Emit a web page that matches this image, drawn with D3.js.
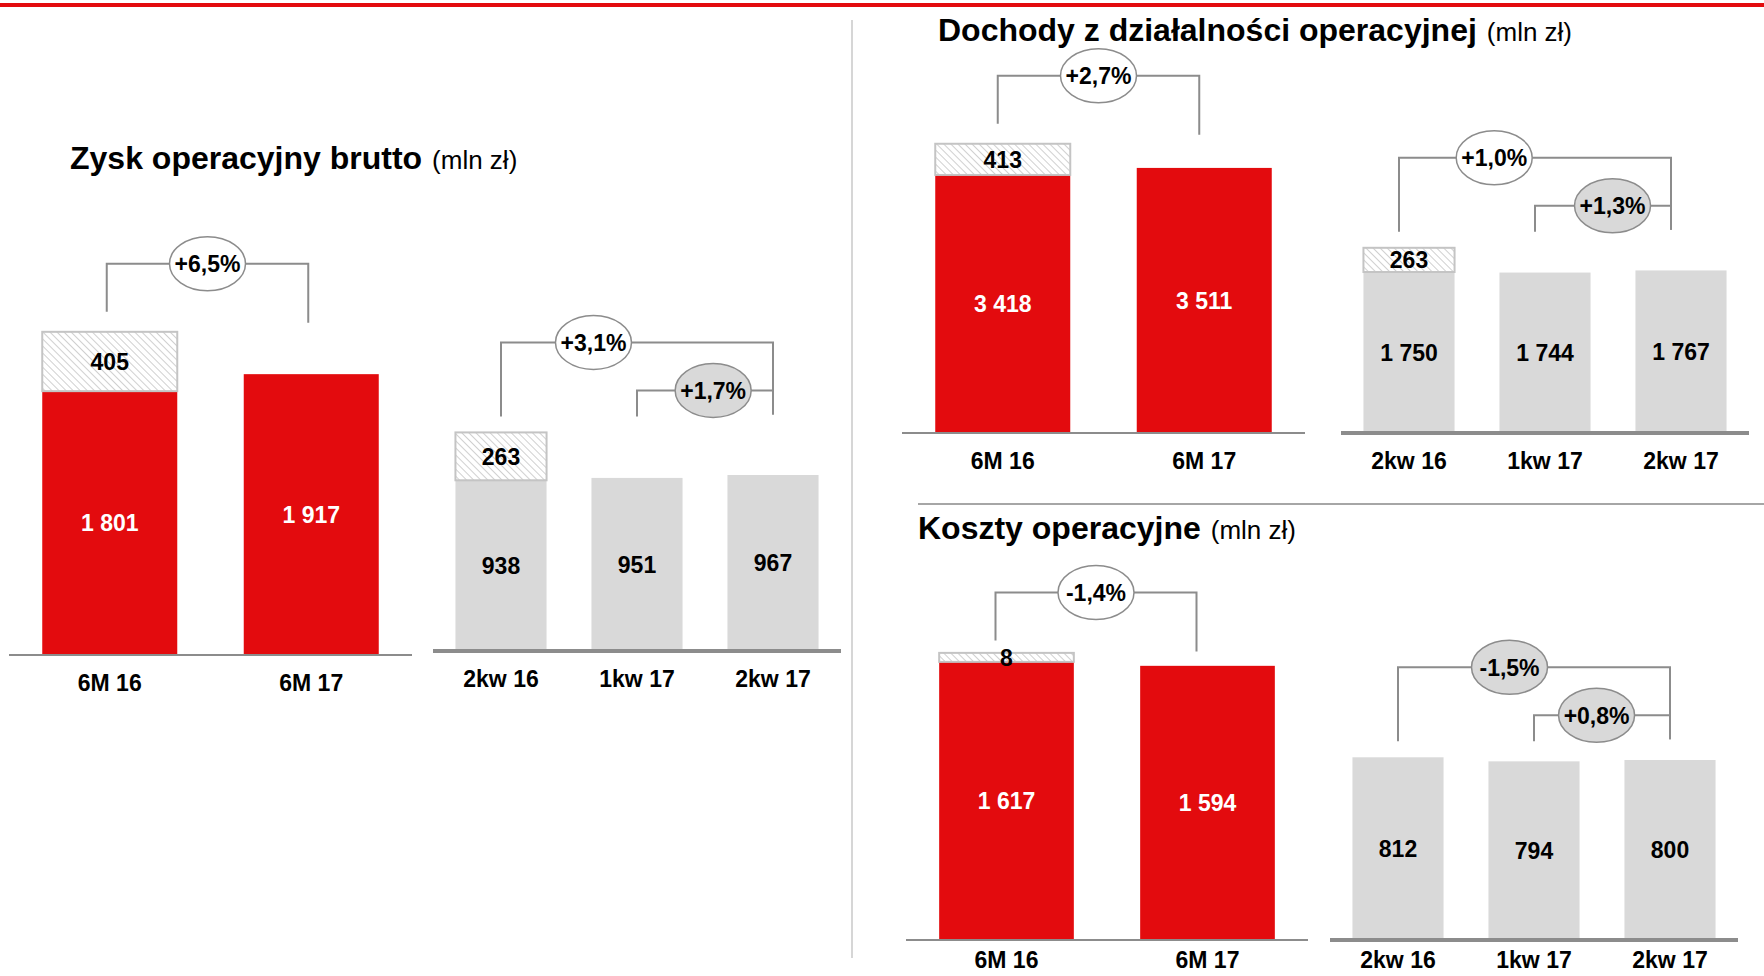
<!DOCTYPE html>
<html>
<head>
<meta charset="utf-8">
<script src="https://cdn.jsdelivr.net/npm/d3@7"></script>
<style>
  body { margin: 0; background: #fff; }
  svg { display: block; font-family: "Liberation Sans", Arial, sans-serif; }
</style>
</head>
<body>
<div id="chart"></div>
<script>
// Data
const halfCats = ["6M 16", "6M 17"];
const quarterCats = ["2kw 16", "1kw 17", "2kw 17"];

const zyskHalf = [1801, 1917];
const zyskHalfExtra = [405, 0];
const zyskQuarter = [938, 951, 967];
const zyskQuarterExtra = [263, 0, 0];
const zyskChanges = ["+6,5%", "+3,1%", "+1,7%"];

const dochodyHalf = [3418, 3511];
const dochodyHalfExtra = [413, 0];
const dochodyQuarter = [1750, 1744, 1767];
const dochodyQuarterExtra = [263, 0, 0];
const dochodyChanges = ["+2,7%", "+1,0%", "+1,3%"];

const kosztyHalf = [1617, 1594];
const kosztyHalfExtra = [8, 0];
const kosztyQuarter = [812, 794, 800];
const kosztyQuarterExtra = [0, 0, 0];
const kosztyChanges = ["-1,4%", "-1,5%", "+0,8%"];

// colours
const RED = "#e30b0e";
const GREY_BAR = "#d9d9d9";
const LINE = "#8c8c8c";

const W = 1764, H = 976;
const fmt = d3.formatLocale({ decimal: ",", thousands: " ", grouping: [3], currency: ["", ""] }).format(",d");

const svg = d3.select("#chart")
  .append("svg")
  .attr("width", W)
  .attr("height", H);

// hatch pattern for the one-off items
const defs = svg.append("defs");
defs.append("pattern")
  .attr("id", "hatch")
  .attr("patternUnits", "userSpaceOnUse")
  .attr("width", 5)
  .attr("height", 5)
  .attr("patternTransform", "rotate(-45)")
  .call(p => {
    p.append("rect").attr("width", 5).attr("height", 5).attr("fill", "#fff");
    p.append("line").attr("x1", 0).attr("y1", 0).attr("x2", 0).attr("y2", 5)
      .attr("stroke", "#c4c4c4").attr("stroke-width", 1.6);
  });

// frame lines
svg.append("rect").attr("x", 0).attr("y", 3).attr("width", W).attr("height", 4).attr("fill", RED);
svg.append("line").attr("x1", 852).attr("x2", 852).attr("y1", 20).attr("y2", 958)
  .attr("stroke", "#c8c8c8").attr("stroke-width", 1.5);
svg.append("line").attr("x1", 918).attr("x2", W).attr("y1", 504).attr("y2", 504)
  .attr("stroke", "#a6a6a6").attr("stroke-width", 2);

// titles
function title(x, y, bold) {
  const t = svg.append("text").attr("x", x).attr("y", y).attr("fill", "#000");
  t.append("tspan").attr("font-size", 32).attr("font-weight", "bold").text(bold);
  t.append("tspan").attr("font-size", 26).attr("dx", 10).text("(mln zł)");
}
title(70, 169, "Zysk operacyjny brutto");
title(938, 41, "Dochody z działalności operacyjnej");
title(918, 539, "Koszty operacyjne");

// one group of bars: cats, base values, hatched extra values
function drawGroup(o) {
  const g = svg.append("g");
  const x = d3.scaleBand().domain(o.cats).range(o.xRange).paddingInner(0.33).paddingOuter(0.165);
  const y = d3.scaleLinear().domain(o.yDomain).range(o.yRange);
  const rows = o.cats.map((c, i) => ({ cat: c, base: o.base[i], extra: o.extra[i] }));
  const extraH = d => Math.max(y(0) - y(d.extra), 9);

  g.selectAll("rect.base").data(rows).enter().append("rect")
    .attr("class", "base")
    .attr("x", d => x(d.cat))
    .attr("width", x.bandwidth())
    .attr("y", d => y(d.base))
    .attr("height", d => y(0) - y(d.base))
    .attr("fill", o.color);

  const withExtra = rows.filter(d => d.extra > 0);
  g.selectAll("rect.extra").data(withExtra).enter().append("rect")
    .attr("class", "extra")
    .attr("x", d => x(d.cat))
    .attr("width", x.bandwidth())
    .attr("y", d => y(d.base) - extraH(d))
    .attr("height", extraH)
    .attr("fill", "url(#hatch)")
    .attr("stroke", "#c4c4c4")
    .attr("stroke-width", 2);

  // axis line
  g.append("line")
    .attr("x1", o.xRange[0]).attr("x2", o.xRange[1])
    .attr("y1", y(0)).attr("y2", y(0))
    .attr("stroke", LINE).attr("stroke-width", o.axisWidth);

  // value labels
  g.selectAll("text.val").data(rows).enter().append("text")
    .attr("x", d => x(d.cat) + x.bandwidth() / 2)
    .attr("y", d => (y(0) + y(d.base)) / 2)
    .attr("dy", "0.36em")
    .attr("text-anchor", "middle")
    .attr("font-size", 23).attr("font-weight", "bold")
    .attr("fill", o.labelColor)
    .text(d => fmt(d.base));

  g.selectAll("text.ext").data(withExtra).enter().append("text")
    .attr("x", d => x(d.cat) + x.bandwidth() / 2)
    .attr("y", d => y(d.base) - extraH(d) / 2)
    .attr("dy", "0.36em")
    .attr("text-anchor", "middle")
    .attr("font-size", 23).attr("font-weight", "bold")
    .attr("fill", "#000")
    .text(d => fmt(d.extra));

  // category labels (kept inside the bottom edge)
  g.selectAll("text.cat").data(o.cats).enter().append("text")
    .attr("x", d => x(d) + x.bandwidth() / 2)
    .attr("y", Math.min(y(0) + 36, H - 8))
    .attr("text-anchor", "middle")
    .attr("font-size", 23).attr("font-weight", "bold")
    .attr("fill", "#000")
    .text(d => d);

  return { x, y, rows, g };
}

function bubble(g, cx, cy, label, fill) {
  g.append("ellipse")
    .attr("cx", cx).attr("cy", cy).attr("rx", 38).attr("ry", 27)
    .attr("fill", fill).attr("stroke", LINE).attr("stroke-width", 1.5);
  g.append("text")
    .attr("x", cx).attr("y", cy).attr("dy", "0.36em")
    .attr("text-anchor", "middle")
    .attr("font-size", 23).attr("font-weight", "bold")
    .attr("fill", "#000")
    .text(label);
}

function bracket(g, xa, ya, xb, yb, level) {
  g.append("path")
    .attr("d", `M${xa},${ya}V${level}H${xb}V${yb}`)
    .attr("fill", "none").attr("stroke", LINE).attr("stroke-width", 2);
}

// half-year pair with one comparison bracket
function halfPanel(o, change, shift) {
  const { x, y, rows, g } = drawGroup(o);
  const c0 = x(rows[0].cat) + x.bandwidth() / 2 + shift;
  const c1 = x(rows[1].cat) + x.bandwidth() / 2 + shift;
  const legL = y(rows[0].base + rows[0].extra) - 20;
  const level = legL - 48;
  bracket(g, c0, legL, c1, legL + 11, level);
  bubble(g, (c0 + c1) / 2, level, change, "#fff");
}

// quarterly trio with y/y and q/q brackets
function quarterPanel(o, changes, shift, outerAt, innerAt, outerFill) {
  const { x, y, rows, g } = drawGroup(o);
  const cx = rows.map(d => x(d.cat) + x.bandwidth() / 2 + shift);
  const leg = y(rows[0].base + rows[0].extra) - 16;
  const outer = leg - 74, inner = leg - 26;
  bracket(g, cx[0], leg, cx[2], leg - 2, outer);
  bracket(g, cx[1], leg, cx[2], leg - 2, inner);
  bubble(g, cx[0] + (cx[2] - cx[0]) * outerAt, outer, changes[0], outerFill);
  bubble(g, cx[1] + (cx[2] - cx[1]) * innerAt, inner, changes[1], GREY_BAR);
}

// Zysk operacyjny brutto
halfPanel({ cats: halfCats, base: zyskHalf, extra: zyskHalfExtra, xRange: [9, 412],
  yDomain: [0, 2000], yRange: [655, 362], color: RED, labelColor: "#fff", axisWidth: 2 },
  zyskChanges[0], -3);
quarterPanel({ cats: quarterCats, base: zyskQuarter, extra: zyskQuarterExtra, xRange: [433, 841],
  yDomain: [0, 1000], yRange: [651, 469], color: GREY_BAR, labelColor: "#000", axisWidth: 4 },
  zyskChanges.slice(1), 0, 0.34, 0.56, "#fff");

// Dochody z działalności operacyjnej
halfPanel({ cats: halfCats, base: dochodyHalf, extra: dochodyHalfExtra, xRange: [902, 1305],
  yDomain: [0, 4000], yRange: [433, 131], color: RED, labelColor: "#fff", axisWidth: 2 },
  dochodyChanges[0], -5);
quarterPanel({ cats: quarterCats, base: dochodyQuarter, extra: dochodyQuarterExtra, xRange: [1341, 1749],
  yDomain: [0, 2000], yRange: [433, 249], color: GREY_BAR, labelColor: "#000", axisWidth: 4 },
  dochodyChanges.slice(1), -10, 0.35, 0.57, "#fff");

// Koszty operacyjne
halfPanel({ cats: halfCats, base: kosztyHalf, extra: kosztyHalfExtra, xRange: [906, 1308],
  yDomain: [0, 2000], yRange: [940, 596], color: RED, labelColor: "#fff", axisWidth: 2 },
  kosztyChanges[0], -11);
quarterPanel({ cats: quarterCats, base: kosztyQuarter, extra: kosztyQuarterExtra, xRange: [1330, 1738],
  yDomain: [0, 1000], yRange: [940, 715], color: GREY_BAR, labelColor: "#000", axisWidth: 4 },
  kosztyChanges.slice(1), 0, 0.41, 0.46, GREY_BAR);
</script>
</body>
</html>
